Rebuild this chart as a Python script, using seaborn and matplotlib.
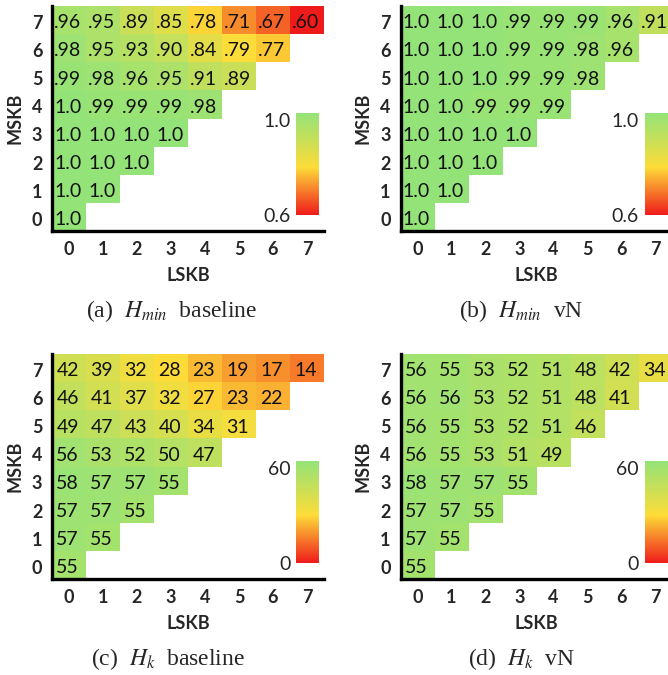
import numpy as np
import pandas as pd
import matplotlib
matplotlib.use("Agg")
import matplotlib.pyplot as plt
import seaborn as sns
from matplotlib.colors import LinearSegmentedColormap

sns.set_theme(style="white")
plt.rcParams['font.family'] = ['Lato', 'DejaVu Sans']
plt.rcParams['mathtext.fontset'] = 'stix'

# rows = MSKB 7..0 (top to bottom), cols = LSKB 0..7
mskb = [7, 6, 5, 4, 3, 2, 1, 0]
lskb = [0, 1, 2, 3, 4, 5, 6, 7]

hmin_base = [
    [.96, .95, .89, .85, .78, .71, .67, .60],
    [.98, .95, .93, .90, .84, .79, .77],
    [.99, .98, .96, .95, .91, .89],
    [1.0, .99, .99, .99, .98],
    [1.0, 1.0, 1.0, 1.0],
    [1.0, 1.0, 1.0],
    [1.0, 1.0],
    [1.0],
]
hmin_vn = [
    [1.0, 1.0, 1.0, .99, .99, .99, .96, .91],
    [1.0, 1.0, 1.0, .99, .99, .98, .96],
    [1.0, 1.0, 1.0, .99, .99, .98],
    [1.0, 1.0, .99, .99, .99],
    [1.0, 1.0, 1.0, 1.0],
    [1.0, 1.0, 1.0],
    [1.0, 1.0],
    [1.0],
]
hk_base = [
    [42, 39, 32, 28, 23, 19, 17, 14],
    [46, 41, 37, 32, 27, 23, 22],
    [49, 47, 43, 40, 34, 31],
    [56, 53, 52, 50, 47],
    [58, 57, 57, 55],
    [57, 57, 55],
    [57, 55],
    [55],
]
hk_vn = [
    [56, 55, 53, 52, 51, 48, 42, 34],
    [56, 56, 53, 52, 51, 48, 41],
    [56, 55, 53, 52, 51, 46],
    [56, 55, 53, 51, 49],
    [58, 57, 57, 55],
    [57, 57, 55],
    [57, 55],
    [55],
]

captions = [r'(a)  $H_{min}$  baseline', r'(b)  $H_{min}$  vN',
            r'(c)  $H_k$  baseline', r'(d)  $H_k$  vN']

cmap = LinearSegmentedColormap.from_list(
    "ryg", [(0.0, "#ef1b1b"), (0.47, "#fddc38"), (1.0, "#94e378")])

W, H = 668, 675


def px_box(left, top, w, h):
    return [left / W, 1 - (top + h) / H, w / W, h / H]


def to_frame(rows):
    full = [r + [np.nan] * (8 - len(r)) for r in rows]
    return pd.DataFrame(full, index=mskb, columns=lskb)


def fmt_hmin(v):
    if np.isnan(v):
        return ""
    return "1.0" if v >= 1.0 else f"{v:.2f}".lstrip("0")


def fmt_hk(v):
    return "" if np.isnan(v) else f"{int(v)}"


fig = plt.figure(figsize=(W / 100, H / 100), dpi=100)

panels = [
    (hmin_base, 0.6, 1.0, fmt_hmin, ("0.6", "1.0"), 52, 6),
    (hmin_vn, 0.6, 1.0, fmt_hmin, ("0.6", "1.0"), 400.5, 6),
    (hk_base, 0, 60, fmt_hk, ("0", "60"), 52, 354),
    (hk_vn, 0, 60, fmt_hk, ("0", "60"), 400.5, 354),
]
cap_pos = [(172, 311), (521, 311), (168, 659), (521, 659)]

for (rows, vmin, vmax, fmt, cb_labels, left, top), cap, (cx, cy) in zip(panels, captions, cap_pos):
    df = to_frame(rows)
    labels = df.map(fmt)
    ax = fig.add_axes(px_box(left, top, 272, 225))
    cax = fig.add_axes(px_box(left + 244, top + 107, 23, 102))
    sns.heatmap(df, ax=ax, cmap=cmap, vmin=vmin, vmax=vmax, annot=labels, fmt="",
                cbar_ax=cax, linewidths=0,
                annot_kws=dict(fontsize=14, color="#111111", family="Lato"))
    # text in the reference sits a little below the cell centre
    for t in ax.texts:
        x, y = t.get_position()
        t.set_position((x - 0.04, y + 0.1))

    for side in ["left", "bottom"]:
        ax.spines[side].set_visible(True)
        ax.spines[side].set_color("black")
        ax.spines[side].set_linewidth(2.4)
    ax.set_xticks(np.arange(8) + 0.5, [str(v) for v in lskb])
    ax.set_yticks(np.arange(8) + 0.62, [str(v) for v in mskb], rotation=0)
    ax.tick_params(length=0, labelsize=13, pad=7)
    for lab in ax.get_xticklabels() + ax.get_yticklabels():
        lab.set_fontweight("bold")
    ax.set_xlabel("LSKB", fontsize=13, fontweight="bold", labelpad=7)
    ax.set_ylabel("MSKB", fontsize=13, fontweight="bold", labelpad=6)

    cbar = ax.collections[0].colorbar
    cbar.outline.set_visible(False)
    cbar.set_ticks([vmin, vmax])
    cbar.set_ticklabels(list(cb_labels))
    cax.yaxis.set_ticks_position("left")
    cax.tick_params(length=0, labelsize=14, pad=4)
    cax.get_yticklabels()[1].set_verticalalignment("top")

    fig.text(cx / W, 1 - cy / H, cap, ha="center", va="center",
             fontsize=17, family="Liberation Serif")

fig.savefig("out.png", dpi=100)
